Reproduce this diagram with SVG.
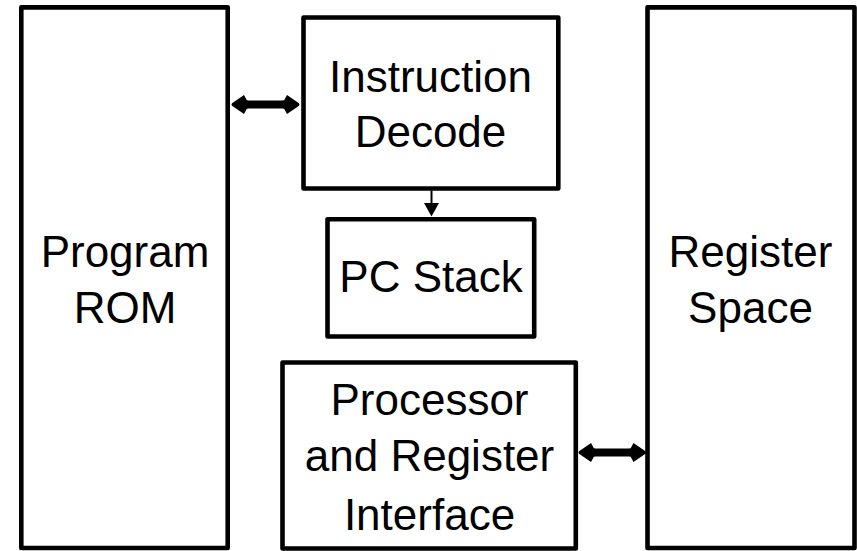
<svg xmlns="http://www.w3.org/2000/svg" width="857" height="551" viewBox="0 0 857 551">
  <style>
    .box { fill: #ffffff; stroke: #000000; stroke-width: 4.6; stroke-linejoin: round; }
    .lbl { font-family: "Liberation Sans", Arial, sans-serif; font-size: 44px; fill: #000000; text-anchor: middle; }
    .bus { stroke: #000000; stroke-width: 8; fill: none; }
    .thin { stroke: #000000; stroke-width: 2; fill: none; }
  </style>
  <defs>
    <marker id="busHead" markerUnits="userSpaceOnUse" viewBox="-2 -11 20 22" markerWidth="20" markerHeight="22" refX="0" refY="0" orient="auto-start-reverse">
      <path d="M -1,-4 L 0,-4 L 3,-9.5 L 15,-1.2 Q 16,0 15,1.2 L 3,9.5 L 0,4 L -1,4 Z" fill="#000000"/>
    </marker>
    <marker id="thinHead" markerUnits="userSpaceOnUse" viewBox="-1 -8 15 16" markerWidth="15" markerHeight="16" refX="0" refY="0" orient="auto">
      <path d="M -0.5,-7.5 L 13,0 L -0.5,7.5 Z" fill="#000000"/>
    </marker>
  </defs>
  <rect width="857" height="551" fill="#ffffff"/>

  <g id="program-rom">
    <rect class="box" x="21.3" y="7.4" width="206.4" height="540.6"/>
    <text class="lbl" x="125" y="266.5">Program</text>
    <text class="lbl" x="125" y="323">ROM</text>
  </g>

  <g id="register-space">
    <rect class="box" x="647.5" y="7.4" width="207" height="540.6"/>
    <text class="lbl" x="750.5" y="266.5">Register</text>
    <text class="lbl" x="750.5" y="323">Space</text>
  </g>

  <g id="instruction-decode">
    <rect class="box" x="303.5" y="17.5" width="254.8" height="171"/>
    <text class="lbl" x="430.5" y="91.5">Instruction</text>
    <text class="lbl" x="430.5" y="147">Decode</text>
  </g>

  <g id="pc-stack">
    <rect class="box" x="327.5" y="219.2" width="206.7" height="117.3"/>
    <text class="lbl" x="431" y="291.5">PC Stack</text>
  </g>

  <g id="processor-interface">
    <rect class="box" x="282.5" y="362.5" width="293.3" height="186"/>
    <text class="lbl" x="429.5" y="415">Processor</text>
    <text class="lbl" x="429.5" y="471">and Register</text>
    <text class="lbl" x="429.5" y="530">Interface</text>
  </g>

  <g id="connectors">
    <line class="bus" x1="247" y1="104.5" x2="284" y2="104.5" marker-start="url(#busHead)" marker-end="url(#busHead)"/>
    <line class="bus" x1="594" y1="452.5" x2="630.5" y2="452.5" marker-start="url(#busHead)" marker-end="url(#busHead)"/>
    <line class="thin" x1="431.5" y1="190.5" x2="431.5" y2="203.5" marker-end="url(#thinHead)"/>
  </g>
</svg>
